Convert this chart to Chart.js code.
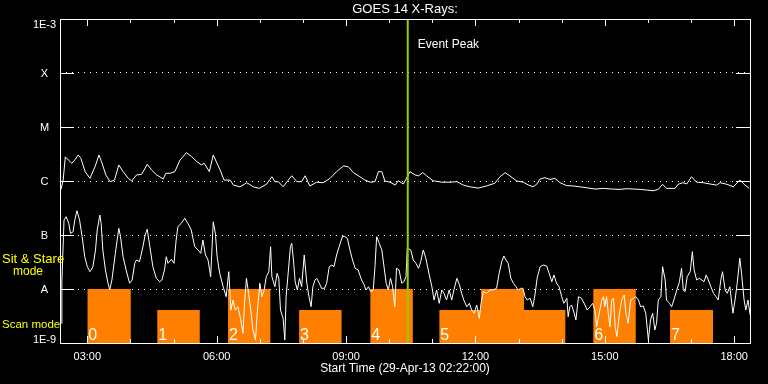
<!DOCTYPE html>
<html><head><meta charset="utf-8">
<script src="https://cdn.jsdelivr.net/npm/chart.js@4.4.1/dist/chart.umd.min.js"></script>
<style>html,body{margin:0;padding:0;background:#000;}#wrap{width:768px;height:384px;}</style>
</head><body><div id="wrap"><canvas id="c" width="768" height="384"></canvas></div>
<script>
// ---- data (times in decimal hours UT, flux in W/m^2) ----
const startHour = 2 + 22/60;
const endHour = startHour + 16;
const chartTitle = 'GOES 14 X-Rays:';
const xAxisTitle = 'Start Time (29-Apr-13 02:22:00)';
const yTickValues = [1e-9,1e-8,1e-7,1e-6,1e-5,1e-4,1e-3];
const yTickLabels = ['1E-9','A','B','C','M','X','1E-3'];
const xTickHours = [3,4,5,6,7,8,9,10,11,12,13,14,15,16,17,18];
const xMajorHours = [3,6,9,12,15,18];
const xMajorLabels = ['03:00','06:00','09:00','12:00','15:00','18:00'];

const longTimes = [2.39,2.44,2.49,2.56,2.64,2.71,2.79,2.85,2.95,3.06,3.18,3.27,3.33,3.43,3.53,3.63,3.73,3.83,3.95,4.03,4.14,4.26,4.39,4.49,4.61,4.76,4.82,4.92,5.03,5.15,5.30,5.42,5.54,5.65,5.71,5.83,5.92,6.08,6.17,6.31,6.39,6.54,6.70,6.85,6.99,7.16,7.28,7.35,7.43,7.54,7.66,7.74,7.86,7.97,8.05,8.16,8.32,8.47,8.63,8.78,8.94,9.05,9.17,9.32,9.44,9.56,9.67,9.75,9.83,9.90,10.02,10.14,10.21,10.33,10.42,10.48,10.60,10.68,10.78,10.87,11.02,11.22,11.41,11.57,11.72,11.87,12.07,12.26,12.45,12.57,12.69,12.80,12.96,13.11,13.23,13.34,13.42,13.50,13.61,13.73,13.84,13.96,14.12,14.27,14.42,14.58,14.77,14.97,15.16,15.35,15.51,15.66,15.82,15.97,16.12,16.24,16.34,16.43,16.63,16.70,16.81,16.90,17.01,17.13,17.28,17.44,17.59,17.67,17.83,17.98,18.13,18.25,18.35];
const longFlux = [7.0e-7,1.04e-6,2.8e-6,2.45e-6,2.13e-6,2.45e-6,3.03e-6,2.63e-6,1.49e-6,1.12e-6,1.84e-6,3.03e-6,2.28e-6,1.29e-6,9.7e-7,1.04e-6,1.98e-6,1.49e-6,1.12e-6,1.0e-6,1.29e-6,1.33e-6,2.04e-6,1.6e-6,1.29e-6,1.09e-6,1.39e-6,1.39e-6,1.49e-6,2.45e-6,3.34e-6,2.82e-6,2.28e-6,1.98e-6,2.13e-6,1.49e-6,3.03e-6,1.6e-6,1.04e-6,1.04e-6,8.4e-7,7.8e-7,9.3e-7,7.8e-7,7.3e-7,8.8e-7,1.2e-6,9.7e-7,9.7e-7,7.8e-7,1.04e-6,1.25e-6,9.7e-7,9.7e-7,1.25e-6,8.1e-7,9.5e-7,9.3e-7,1.12e-6,1.49e-6,1.9e-6,1.84e-6,1.43e-6,1.2e-6,1.04e-6,9.5e-7,9.7e-7,1.49e-6,1.49e-6,1.0e-6,9.5e-7,8.4e-7,1.01e-6,8.8e-7,1.2e-6,1.49e-6,1.29e-6,1.25e-6,1.43e-6,1.24e-6,1.01e-6,9.5e-7,9.5e-7,9.7e-7,8.4e-7,7.8e-7,7.4e-7,8.1e-7,9.1e-7,1.2e-6,1.43e-6,1.24e-6,1.0e-6,9.5e-7,8.4e-7,7.8e-7,8.7e-7,1.09e-6,1.15e-6,1.07e-6,1.12e-6,9.3e-7,8.2e-7,8.1e-7,7.8e-7,7.5e-7,7.1e-7,7.3e-7,7.1e-7,7.0e-7,7.2e-7,7.1e-7,7.0e-7,6.8e-7,6.6e-7,7.0e-7,8.7e-7,7.3e-7,7.3e-7,8.7e-7,9.3e-7,8.8e-7,1.2e-6,9.5e-7,9.3e-7,8.8e-7,8.4e-7,9.3e-7,8.7e-7,7.8e-7,1.04e-6,8.4e-7,7.3e-7];

const shortTimes = [2.40,2.41,2.46,2.51,2.57,2.61,2.67,2.71,2.76,2.82,2.88,2.94,3.00,3.06,3.09,3.13,3.19,3.23,3.29,3.32,3.36,3.42,3.48,3.52,3.57,3.65,3.73,3.77,3.83,3.90,3.98,4.04,4.10,4.14,4.21,4.29,4.34,4.39,4.45,4.52,4.60,4.68,4.73,4.79,4.83,4.87,4.95,5.01,5.06,5.10,5.18,5.26,5.33,5.41,5.49,5.57,5.63,5.68,5.74,5.80,5.86,5.89,5.92,5.97,6.01,6.07,6.15,6.22,6.28,6.33,6.38,6.43,6.49,6.56,6.61,6.65,6.69,6.74,6.79,6.84,6.90,6.94,7.00,7.05,7.10,7.15,7.21,7.25,7.28,7.35,7.40,7.44,7.48,7.54,7.58,7.61,7.65,7.71,7.74,7.78,7.82,7.87,7.92,7.97,8.03,8.09,8.14,8.19,8.23,8.28,8.32,8.38,8.43,8.50,8.55,8.61,8.67,8.72,8.78,8.84,8.92,8.97,9.03,9.09,9.15,9.21,9.28,9.36,9.42,9.46,9.52,9.57,9.63,9.67,9.71,9.77,9.83,9.88,9.93,9.98,10.03,10.08,10.13,10.17,10.23,10.29,10.34,10.39,10.42,10.50,10.56,10.62,10.68,10.73,10.79,10.85,10.93,10.99,11.04,11.10,11.16,11.22,11.27,11.33,11.39,11.45,11.50,11.57,11.63,11.68,11.73,11.80,11.86,11.91,11.97,12.03,12.09,12.13,12.18,12.26,12.34,12.41,12.49,12.55,12.61,12.66,12.71,12.76,12.82,12.88,12.94,12.99,13.05,13.10,13.15,13.20,13.27,13.33,13.38,13.43,13.50,13.57,13.65,13.71,13.77,13.82,13.88,13.94,14.00,14.05,14.12,14.15,14.19,14.23,14.29,14.33,14.39,14.46,14.54,14.59,14.66,14.72,14.77,14.81,14.87,14.93,14.97,15.00,15.04,15.08,15.12,15.16,15.20,15.24,15.28,15.33,15.39,15.45,15.49,15.54,15.60,15.66,15.72,15.78,15.83,15.89,15.95,16.01,16.06,16.11,16.16,16.20,16.24,16.30,16.34,16.40,16.43,16.50,16.55,16.60,16.67,16.73,16.78,16.82,16.86,16.91,16.98,17.03,17.07,17.13,17.19,17.25,17.30,17.35,17.40,17.46,17.52,17.58,17.63,17.69,17.73,17.79,17.84,17.90,17.97,18.02,18.07,18.13,18.17,18.23,18.27,18.32,18.37];
const shortFlux = [2.3e-9,1.36e-8,1.9e-7,2.18e-7,1.65e-7,1.07e-7,1.15e-7,1.9e-7,2.82e-7,1.9e-7,9.3e-8,3.96e-8,2.59e-8,2.09e-8,2.25e-8,2.59e-8,5.27e-8,1.24e-7,2.34e-7,1.65e-7,5.27e-8,2.25e-8,1.28e-8,9.6e-9,1.47e-8,4.58e-8,1.33e-7,9.3e-8,3.96e-8,2.25e-8,1.28e-8,1.47e-8,2.99e-8,3.44e-8,3.2e-8,6.07e-8,1.0e-7,1.28e-7,6.07e-8,2.59e-8,1.58e-8,1.36e-8,1.47e-8,2.25e-8,3.96e-8,2.99e-8,3.55e-8,2.99e-8,8.07e-8,1.43e-7,1.65e-7,2.04e-7,1.65e-7,1.24e-7,6.07e-8,5.27e-8,4.58e-8,8.07e-8,4.26e-8,3.44e-8,1.69e-8,5.27e-8,1.76e-7,1.07e-7,3.96e-8,1.95e-8,1.1e-8,7.2e-9,2.09e-8,4.08e-9,6.25e-9,4.08e-9,4.7e-9,2.67e-9,1.51e-9,6.25e-9,1.58e-8,8.32e-9,4.08e-9,1.74e-9,1.14e-9,3.55e-9,1.28e-8,7.2e-9,9.6e-9,1.69e-8,2.09e-8,6.07e-8,1.69e-8,1.1e-8,1.95e-8,1.58e-8,4.08e-9,2.86e-9,1.14e-9,7.2e-9,1.69e-8,6.07e-8,7.02e-8,3.44e-8,1.36e-8,9.6e-9,1.58e-8,1.1e-8,4.26e-8,1.28e-8,7.2e-9,4.7e-9,1.1e-8,1.47e-8,1.58e-8,1.28e-8,1.03e-8,1.03e-8,1.28e-8,2.59e-8,2.78e-8,2.59e-8,4.26e-8,6.07e-8,9.58e-8,9.3e-8,8.69e-8,5.27e-8,3.44e-8,2.42e-8,2.25e-8,1.47e-8,1.19e-8,9.6e-9,1.1e-8,8.9e-9,9.6e-9,2.59e-8,9.3e-8,7.02e-8,5.27e-8,2.59e-8,1.28e-8,9.6e-9,1.58e-8,1.1e-8,4.7e-9,2.42e-8,2.25e-8,1.28e-8,1.36e-8,1.69e-8,5.67e-8,5.27e-8,3.44e-8,2.99e-8,2.42e-8,3.2e-8,5.27e-8,3.71e-8,1.82e-8,1.1e-8,6.25e-9,9.6e-9,5.43e-9,9.6e-9,8.32e-9,6.25e-9,9.6e-9,6.25e-9,9.6e-9,1.58e-8,1.19e-8,8.32e-9,6.25e-9,4.7e-9,5.43e-9,4.08e-9,3.55e-9,5.06e-9,2.86e-9,5.43e-9,8.9e-9,8.32e-9,9.6e-9,9.6e-9,1.03e-8,1.95e-8,3.2e-8,4.08e-8,3.44e-8,2.99e-8,1.58e-8,1.28e-8,1.1e-8,9.6e-9,1.03e-8,1.03e-8,7.2e-9,6.25e-9,6.73e-9,4.7e-9,7.74e-9,1.58e-8,2.59e-8,2.78e-8,2.67e-8,1.95e-8,1.36e-8,1.82e-8,1.28e-8,1.1e-8,7.2e-9,5.43e-9,6.73e-9,3.07e-9,4.7e-9,5.06e-9,3.55e-9,2.67e-9,7.2e-9,6.73e-9,5.06e-9,4.08e-9,4.7e-9,5.43e-9,4.08e-9,2.0e-9,3.55e-9,6.25e-9,7.2e-9,4.7e-9,7.2e-9,3.55e-9,2.0e-9,6.25e-9,6.73e-9,2.0e-9,1.31e-9,3.07e-9,6.25e-9,7.74e-9,3.55e-9,2.32e-9,6.25e-9,6.73e-9,7.2e-9,6.25e-9,4.7e-9,4.85e-9,3.55e-9,1.14e-9,2.67e-9,3.55e-9,1.74e-9,2.32e-9,6.25e-9,7.2e-9,2.59e-8,1.47e-8,6.25e-9,5.43e-9,4.7e-9,6.25e-9,9.6e-9,1.36e-8,2.42e-8,9.6e-9,8.9e-9,1.69e-8,2.09e-8,4.91e-8,2.25e-8,1.47e-8,1.58e-8,1.47e-8,1.36e-8,1.82e-8,1.47e-8,1.1e-8,8.32e-9,7.2e-9,6.25e-9,1.47e-8,2.09e-8,9.6e-9,8.32e-9,1.1e-8,3.55e-9,6.25e-9,1.28e-8,3.71e-8,1.95e-8,6.25e-9,4.08e-9,6.25e-9,3.3e-9];

// observing-mode segments
const segStart = [3.00, 4.62, 6.26, 7.91, 9.56, 11.16, 12.13, 14.73, 16.51];
const segEnd   = [4.01, 5.61, 7.25, 8.90, 10.55, 14.09, 13.13, 15.72, 17.51];
const segMode  = ['stare','scan','stare','scan','stare','scan','stare','stare','scan'];
const segLabel = ['0','1','2','3','4','5','','6','7'];
const modeLevel = { stare: 1e-8, scan: 4.1e-9 };
const eventPeakHour = 10.43;

// ---- styling ----
const FONT = '"Liberation Sans", Arial, sans-serif';
const ORANGE = '#ff8000';
const YELLOW = '#ffff00';
const PEAK = '#99cc00';
Chart.defaults.font.family = FONT;
Chart.defaults.color = '#ffffff';

const toPts = (t, f) => t.map((v, i) => ({ x: v, y: f[i] }));

const datasets = [
  { label: 'peak', data: [{x: eventPeakHour, y: 1e-9}, {x: eventPeakHour, y: 1e-3}], borderColor: PEAK, borderWidth: 2, pointRadius: 0, fill: false, order: 0 },
  { label: '1-8 A', data: toPts(longTimes, longFlux), borderColor: '#ffffff', borderWidth: 1, pointRadius: 0, fill: false, tension: 0, order: 1 },
  { label: '0.5-4 A', data: toPts(shortTimes, shortFlux), borderColor: '#ffffff', borderWidth: 1, pointRadius: 0, fill: false, tension: 0, order: 1 },
];
segStart.forEach((s, i) => {
  const lvl = modeLevel[segMode[i]];
  datasets.push({ label: 'mode' + i, data: [{x: s, y: lvl}, {x: segEnd[i], y: lvl}], borderWidth: 0, borderColor: ORANGE, backgroundColor: ORANGE, pointRadius: 0, fill: 'start', order: 2 });
});

const overlay = {
  id: 'overlay',
  afterDatasetsDraw(chart) {
    const { ctx, chartArea: a, scales: { x, y } } = chart;
    ctx.save();
    ctx.strokeStyle = '#ffffff';
    ctx.lineWidth = 1;
    const L = Math.round(a.left), R = Math.round(a.right), T = Math.round(a.top), B = Math.round(a.bottom);
    ctx.strokeRect(L + 0.5, T + 0.5, R - L, B - T);
    ctx.beginPath();
    xTickHours.forEach(h => {
      const px = Math.round(x.getPixelForValue(h)) + 0.5;
      const len = xMajorHours.includes(h) ? 7 : 4;
      ctx.moveTo(px, B); ctx.lineTo(px, B - len);
      ctx.moveTo(px, T); ctx.lineTo(px, T + len);
    });
    yTickValues.forEach(v => {
      const py = Math.round(y.getPixelForValue(v)) + 0.5;
      ctx.moveTo(L, py); ctx.lineTo(L + 14, py);
      ctx.moveTo(R - 14, py); ctx.lineTo(R, py);
    });
    ctx.stroke();

    // y labels
    ctx.fillStyle = '#ffffff';
    ctx.font = '11px ' + FONT;
    ctx.textAlign = 'center';
    ctx.textBaseline = 'alphabetic';
    yTickValues.forEach((v, i) => {
      const py = y.getPixelForValue(v);
      let by = py + 4;
      if (i === yTickValues.length - 1) by = py + 8.5;
      if (i === 0) by = py;
      ctx.fillText(yTickLabels[i], 44.5, by);
    });

    // segment numbers
    ctx.textAlign = 'left';
    ctx.font = '16px ' + FONT;
    segStart.forEach((s, i) => {
      if (!segLabel[i]) return;
      ctx.fillText(segLabel[i], x.getPixelForValue(s) + 1, B - 3.5);
    });

    // event peak
    ctx.font = '12px ' + FONT;
    ctx.fillText('Event Peak', x.getPixelForValue(eventPeakHour) + 10, T + 28.5);

    // mode labels
    ctx.fillStyle = YELLOW;
    const aPix = y.getPixelForValue(modeLevel.stare);
    ctx.font = '13px ' + FONT;
    ctx.fillText('Sit & Stare', 2, aPix - 26);
    ctx.font = '12px ' + FONT;
    ctx.fillText('mode', 13, aPix - 14);
    ctx.font = '11.5px ' + FONT;
    ctx.fillText('Scan mode', 2, B - 15.5);
    ctx.restore();
  }
};

const bgPlugin = {
  id: 'bg',
  beforeDraw(chart) {
    const { ctx } = chart;
    ctx.save(); ctx.fillStyle = '#000'; ctx.fillRect(0, 0, chart.width, chart.height); ctx.restore();
  }
};

new Chart(document.getElementById('c'), {
  type: 'line',
  data: { datasets },
  options: {
    responsive: false,
    animation: false,
    devicePixelRatio: 1,
    layout: { padding: { left: 0, right: 18, top: 0, bottom: 0 } },
    plugins: {
      legend: { display: false },
      tooltip: { enabled: false },
      title: { display: true, text: chartTitle, color: '#ffffff', fullSize: false, font: { size: 13, weight: 'normal', lineHeight: 1 }, padding: { top: 3, bottom: 3 } },
    },
    scales: {
      x: {
        type: 'linear', min: startHour, max: endHour,
        afterBuildTicks: s => { s.ticks = xTickHours.map(v => ({ value: v })); },
        ticks: {
          autoSkip: false, maxRotation: 0, minRotation: 0, color: '#ffffff', padding: 7,
          font: { size: 11 },
          callback: v => { const i = xMajorHours.indexOf(Math.round(v)); return (i >= 0 && Math.abs(v - Math.round(v)) < 1e-6) ? xMajorLabels[i] : ''; }
        },
        grid: { display: false, drawTicks: false },
        border: { display: false },
        title: { display: true, text: xAxisTitle, color: '#ffffff', font: { size: 12 }, padding: { top: 0, bottom: 8 } },
        afterFit: s => { s.height = 41; }
      },
      y: {
        type: 'logarithmic', min: 1e-9, max: 1e-3,
        afterBuildTicks: s => { s.ticks = yTickValues.map(v => ({ value: v })); },
        ticks: { display: false },
        grid: { color: '#ffffff', lineWidth: 1, drawTicks: false },
        border: { display: false, dash: [1, 5] },
        afterFit: s => { s.width = 60; }
      }
    }
  },
  plugins: [bgPlugin, overlay]
});
</script></body></html>
